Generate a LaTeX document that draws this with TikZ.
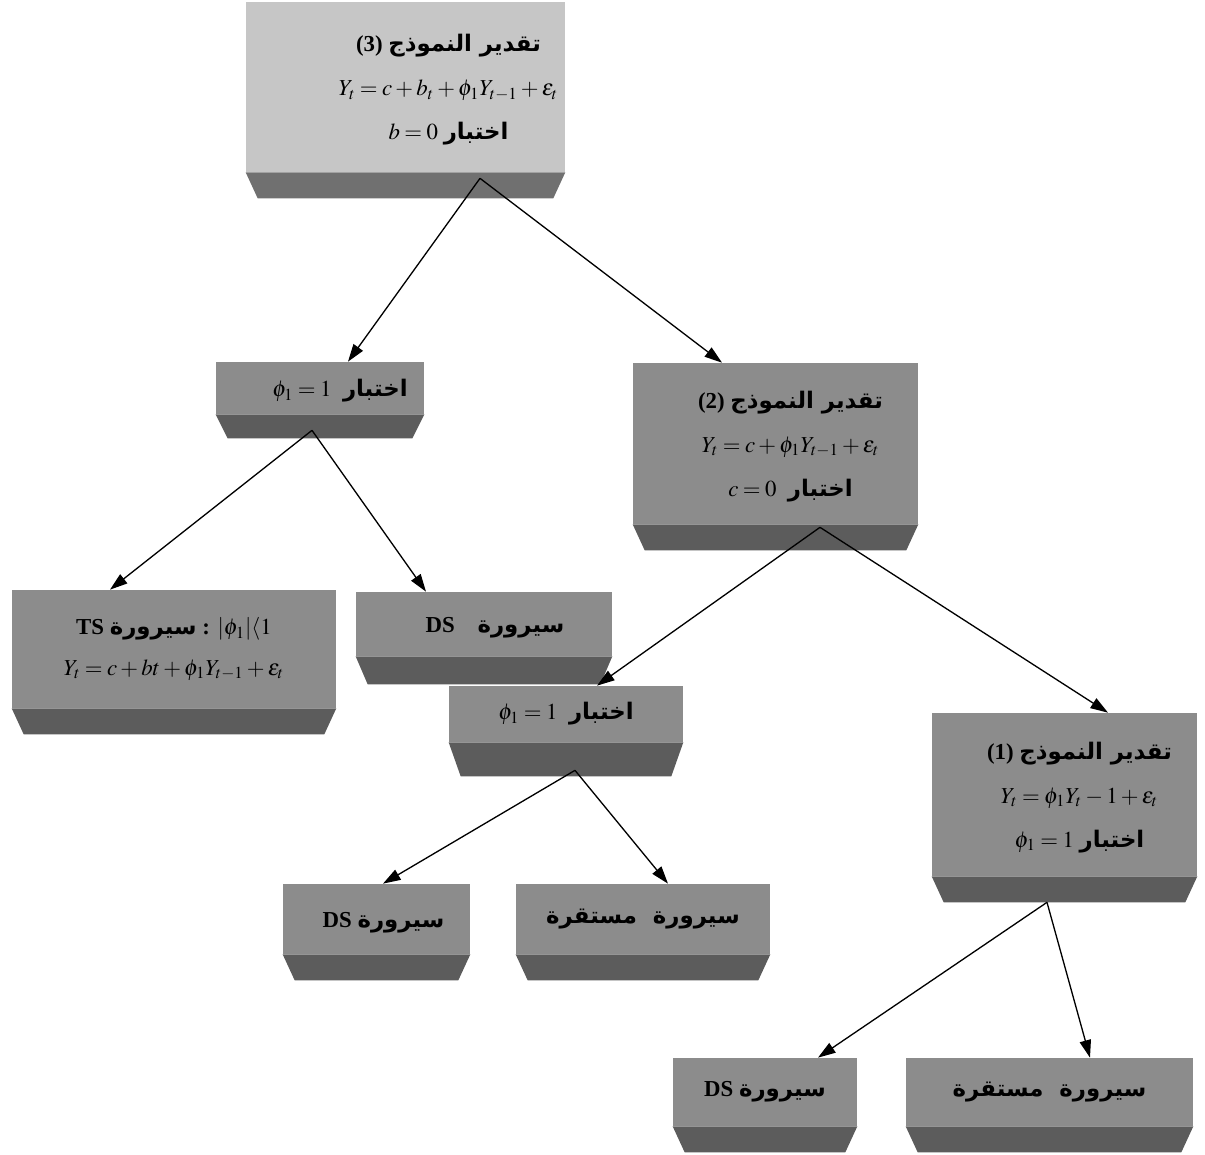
\documentclass[tikz,border=0pt]{standalone}
\usepackage{mathptmx}
\usepackage{fontspec}
\setmainfont{Liberation Serif}
\newfontfamily\arabicfont[Script=Arabic]{DejaVu Sans}
\TeXXeTstate=1
\usetikzlibrary{arrows.meta,calc}
\newcommand\ar[1]{{\arabicfont\bfseries\beginR #1\endR}}
\newcommand\shifted[2]{\hspace*{#1}\begin{tabular}{@{}c@{}}#2\end{tabular}}
\definecolor{lightface}{HTML}{C6C6C6}
\definecolor{darkface}{HTML}{8C8C8C}
\definecolor{lightbev}{HTML}{707070}
\definecolor{darkbev}{HTML}{5C5C5C}
\tikzset{
  face/.style={inner sep=0pt, align=center, font=\fontsize{13}{25}\selectfont},
  lface/.style={face, fill=lightface},
  dface/.style={face, fill=darkface},
  conn/.style={line width=0.75pt, -{Triangle[length=10pt,width=6.5pt]}},
}
\newcommand\bevel[3]{\fill[#3] (#1.south west) -- (#1.south east) -- ([shift={(-12,#2)}]#1.south east) -- ([shift={(12,#2)}]#1.south west) -- cycle;}
\medmuskip=2.5mu plus 1mu minus 1mu
\thickmuskip=3.5mu plus 2mu
\begin{document}
\begin{tikzpicture}[x=0.02cm,y=-0.02cm]
\useasboundingbox (0,0) rectangle (1205,1155);
% boxes
\node[lface, minimum width=6.38cm, minimum height=3.40cm] (m3) at (405.5,87)
  {\shifted{1.72cm}{\textbf{(3)} \ar{تقدير النموذج}\\ $Y_t = c + b_t + \phi_1 Y_{t-1} + \varepsilon_t$\\ $b = 0$ \ar{اختبار}}};
\bevel{m3}{26}{lightbev}
\node[dface, minimum width=4.16cm, minimum height=1.04cm] (phiA) at (320,388)
  {\shifted{0.8cm}{$\phi_1 = 1$\ \ \ar{اختبار}}};
\bevel{phiA}{24}{darkbev}
\node[dface, minimum width=5.70cm, minimum height=3.22cm] (m2) at (775.5,443.5)
  {\shifted{0.6cm}{\textbf{(2)} \ar{تقدير النموذج}\\ $Y_t = c + \phi_1 Y_{t-1} + \varepsilon_t$\\ $c = 0$\ \ \ar{اختبار}}};
\bevel{m2}{26}{darkbev}
\node[dface, minimum width=6.48cm, minimum height=2.36cm, font=\fontsize{13}{23}\selectfont] (ts) at (174,649)
  {\textbf{TS} \ar{سيرورة} \textbf{:} $|\phi_1|\langle 1$\\ $Y_t = c + bt + \phi_1 Y_{t-1} + \varepsilon_t$};
\bevel{ts}{26}{darkbev}
\node[dface, minimum width=5.12cm, minimum height=1.28cm] (ds1) at (484,624)
  {\shifted{0.44cm}{\textbf{DS}\quad\ar{سيرورة}}};
\bevel{ds1}{28}{darkbev}
\node[dface, minimum width=4.68cm, minimum height=1.12cm] (phiB) at (566,714)
  {$\phi_1 = 1$\ \ \ar{اختبار}};
\bevel{phiB}{34}{darkbev}
\node[dface, minimum width=5.30cm, minimum height=3.26cm] (m1) at (1064.5,794.5)
  {\shifted{0.6cm}{\textbf{(1)} \ar{تقدير النموذج}\\ $Y_t = \phi_1 Y_t - 1 + \varepsilon_t$\\ $\phi_1 = 1$ \ar{اختبار}}};
\bevel{m1}{26}{darkbev}
\node[dface, minimum width=3.74cm, minimum height=1.40cm] (ds2) at (376.5,919)
  {\shifted{0.28cm}{\textbf{DS} \ar{سيرورة}}};
\bevel{ds2}{26}{darkbev}
\node[dface, minimum width=5.08cm, minimum height=1.40cm] (st1) at (643,919)
  {\ar{سيرورة\ \ مستقرة}};
\bevel{st1}{26}{darkbev}
\node[dface, minimum width=3.68cm, minimum height=1.36cm] (ds3) at (765,1092)
  {\textbf{DS} \ar{سيرورة}};
\bevel{ds3}{26}{darkbev}
\node[dface, minimum width=5.74cm, minimum height=1.36cm] (st2) at (1049.5,1092)
  {\ar{سيرورة\ \ مستقرة}};
\bevel{st2}{26}{darkbev}
% apexes
\coordinate (a3) at ($(m3.south)+(74.5,6)$);
\coordinate (aA) at ($(phiA.south)+(-8,16)$);
\coordinate (a2) at ($(m2.south)+(44.5,3)$);
\coordinate (aB) at ($(phiB.south)+(9,28)$);
\coordinate (a1) at ($(m1.south)+(-17.5,26)$);
% connectors
\draw[conn] (a3) -- ($(phiA.north)+(28,0)$);
\draw[conn] (a3) -- ($(m2.north)+(-53.5,0)$);
\draw[conn] (aA) -- ($(ts.north)+(-64,0)$);
\draw[conn] (aA) -- ($(ds1.north)+(-58,0)$);
\draw[conn] (a2) -- ($(phiB.north)+(31,0)$);
\draw[conn] (a2) -- ($(m1.north)+(43.5,0)$);
\draw[conn] (aB) -- ($(ds2.north)+(6.5,0)$);
\draw[conn] (aB) -- ($(st1.north)+(25,0)$);
\draw[conn] (a1) -- ($(ds3.north)+(53,0)$);
\draw[conn] (a1) -- ($(st2.north)+(40.5,0)$);
\end{tikzpicture}
\end{document}
